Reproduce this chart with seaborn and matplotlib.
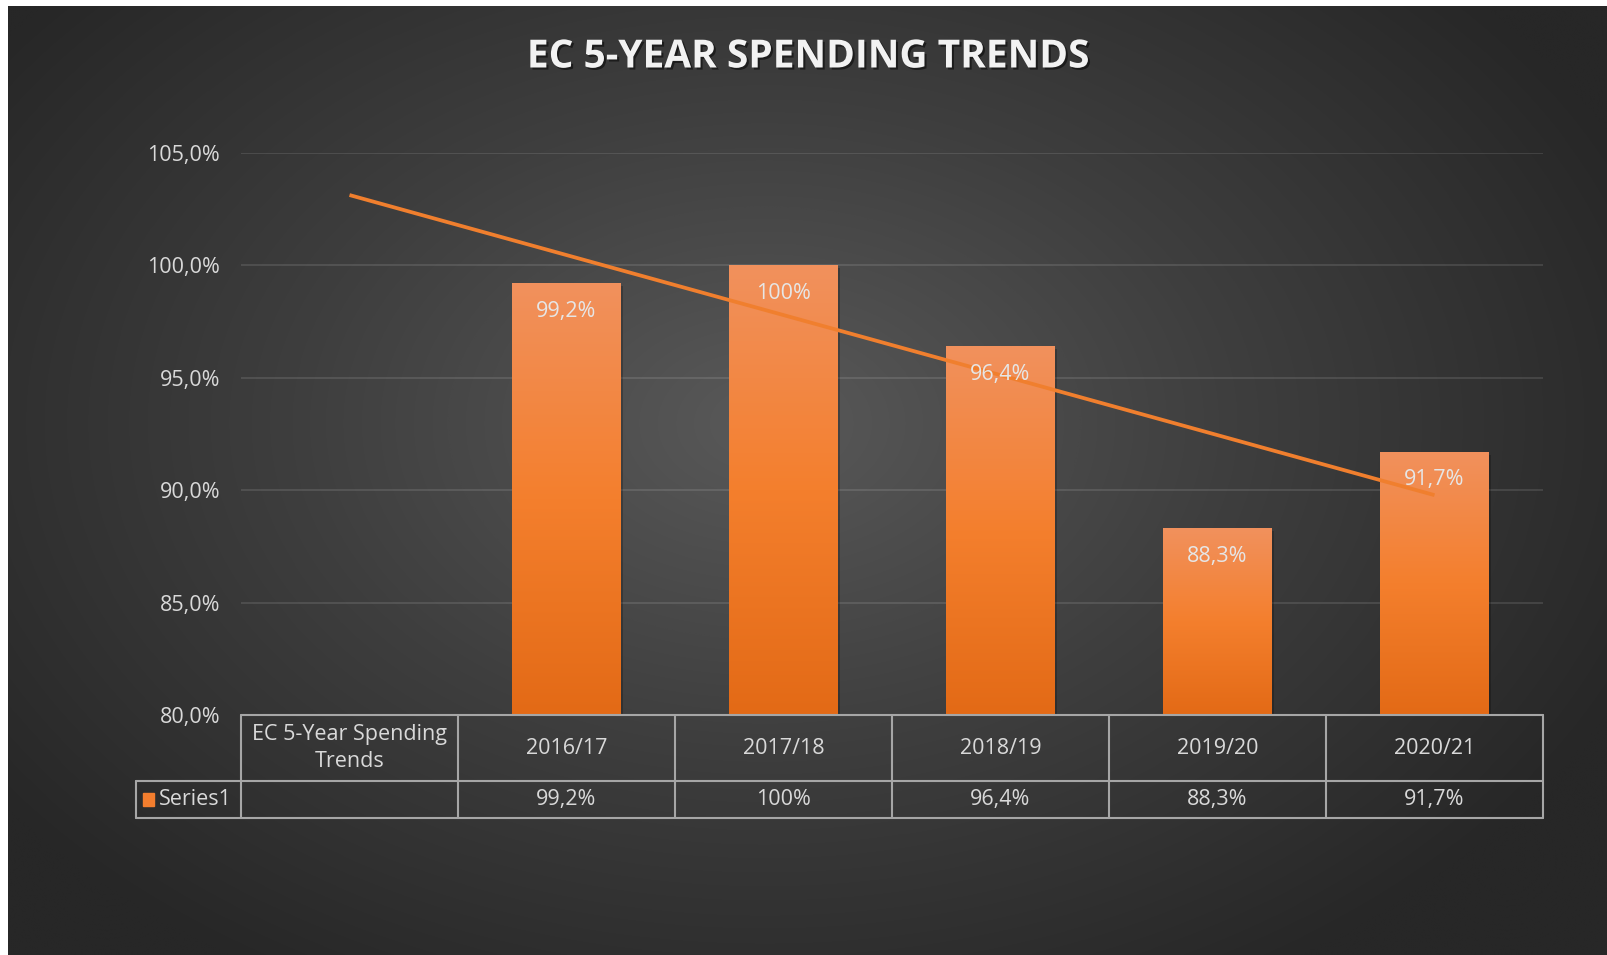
import numpy as np
import pandas as pd
import matplotlib
matplotlib.use("Agg")
import matplotlib.pyplot as plt
import matplotlib.patheffects as pe
from matplotlib.colors import LinearSegmentedColormap
from matplotlib.transforms import blended_transform_factory
import seaborn as sns

# data
categories = ["EC 5-Year Spending\nTrends", "2016/17", "2017/18", "2018/19", "2019/20", "2020/21"]
values = [np.nan, 99.2, 100.0, 96.4, 88.3, 91.7]
series_name = "Series1"
title = "EC 5-YEAR SPENDING TRENDS"

df = pd.DataFrame({"category": categories, "value": values})


def fmt(v):
    if np.isnan(v):
        return ""
    if v == int(v):
        return f"{int(v)}%"
    return f"{v:.1f}".replace(".", ",") + "%"


sns.set_theme(style="dark")
plt.rcParams["font.family"] = ["Open Sans", "DejaVu Sans"]

W, H = 1608, 955
fig = plt.figure(figsize=(W / 100, H / 100), dpi=100)
fig.patch.set_facecolor("white")

# radial gradient background
bg = fig.add_axes([8 / W, 0, 1 - 8 / W, 1 - 6 / H], zorder=-5)
yy, xx = np.mgrid[0:H, 0:W]
r = np.sqrt(((xx - 760) / 950) ** 2 + ((yy - 420) / 650) ** 2)
r = np.clip(r, 0, 1)
bg_cmap = LinearSegmentedColormap.from_list("bg", ["#595959", "#3e3e3e", "#272727"])
bg.imshow(r, cmap=bg_cmap, aspect="auto", extent=[0, 1, 0, 1], origin="upper")
bg.set_axis_off()

ax = fig.add_axes([241 / W, 1 - 715 / H, 1302 / W, 562 / H])
ax.set_facecolor("none")

sns.barplot(data=df, x="category", y="value", color="#F47E2E", width=0.5,
            ax=ax, zorder=2, saturation=1, edgecolor="none", linewidth=0)

# gradient fill on bars
bar_cmap = LinearSegmentedColormap.from_list("bar", ["#E36A16", "#F47F2D", "#F1915D"])
grad = np.linspace(0, 1, 256).reshape(-1, 1)
for p in ax.patches:
    h = p.get_height()
    if np.isnan(h) or h == 0:
        continue
    x0 = p.get_x()
    w = p.get_width()
    # soft shadow
    sh = plt.Rectangle((x0 + 0.01, 80), w, h - 80 - 0.12, color="black", alpha=0.22,
                       zorder=1.5, lw=0)
    ax.add_patch(sh)
    p.set_facecolor("none")
    p.set_edgecolor("none")
    im = ax.imshow(grad, cmap=bar_cmap, aspect="auto", origin="lower",
                   extent=[x0, x0 + w, 80, h], zorder=2)
    im.set_clip_path(p)

# data labels
for i, v in enumerate(values):
    if np.isnan(v):
        continue
    ax.annotate(fmt(v), (i, v), xytext=(0, -20), textcoords="offset points",
                ha="center", va="center", color="#e6e6e6", fontsize=15.5, zorder=4)

# linear trendline
xs = np.array([i for i, v in enumerate(values) if not np.isnan(v)])
ys = np.array([v for v in values if not np.isnan(v)])
k, b = np.polyfit(xs, ys, 1)
tx = np.array([0, len(categories) - 1])
ax.plot(tx, k * tx + b, color="#F07F2E", lw=2.7, zorder=3, solid_capstyle="butt")

ax.set_xlim(-0.5, len(categories) - 0.5)
ax.set_ylim(80, 105)
ax.set_yticks(np.arange(80, 105.1, 5))
ax.set_yticklabels([f"{t:.1f}".replace(".", ",") + "%" for t in np.arange(80, 105.1, 5)])
ax.tick_params(axis="y", colors="#d9d9d9", labelsize=15.5, length=0, pad=15)
ax.set_xticks([])
ax.set_xlabel("")
ax.set_ylabel("")
ax.grid(axis="y", color="white", alpha=0.12, lw=1.3, zorder=0)
ax.grid(axis="x", visible=False)
for s in ax.spines.values():
    s.set_visible(False)

# data table under the axis
trans = blended_transform_factory(ax.transData, ax.transAxes)
lc = "#a6a6a6"
lw = 1.5
n = len(categories)
r1 = -66 / 562
r2 = -103 / 562
leg_x = -0.5 - 105 / 217
ax.plot([-0.5, n - 0.5], [0, 0], color=lc, lw=lw, transform=trans, clip_on=False, zorder=5)
ax.plot([leg_x, n - 0.5], [r1, r1], color=lc, lw=lw, transform=trans, clip_on=False)
ax.plot([leg_x, n - 0.5], [r2, r2], color=lc, lw=lw, transform=trans, clip_on=False)
ax.plot([leg_x, leg_x], [r1, r2], color=lc, lw=lw, transform=trans, clip_on=False)
for i in range(n + 1):
    ax.plot([i - 0.5, i - 0.5], [0, r2], color=lc, lw=lw, transform=trans, clip_on=False)
for i, c in enumerate(categories):
    ax.text(i, r1 / 2, c, ha="center", va="center", color="#d9d9d9", fontsize=15.5,
            transform=trans, linespacing=1.4)
    ax.text(i, (r1 + r2) / 2, fmt(values[i]), ha="center", va="center", color="#d9d9d9",
            fontsize=15.5, transform=trans)
ax.add_patch(plt.Rectangle((leg_x + 0.03, (r1 + r2) / 2 - 0.011), 0.055, 0.022,
                           color="#F47E2E", transform=trans, clip_on=False))
ax.text(leg_x + 0.105, (r1 + r2) / 2, series_name, ha="left", va="center",
        color="#d9d9d9", fontsize=15.5, transform=trans)

fig.text(808 / W, 1 - 57 / H, title, ha="center", va="center", color="#f2f2f2",
         fontsize=28, fontweight="bold",
         path_effects=[pe.withSimplePatchShadow(offset=(1.5, -1.5), shadow_rgbFace="black", alpha=0.5)])

fig.savefig("out.png", dpi=100, facecolor=fig.get_facecolor())
